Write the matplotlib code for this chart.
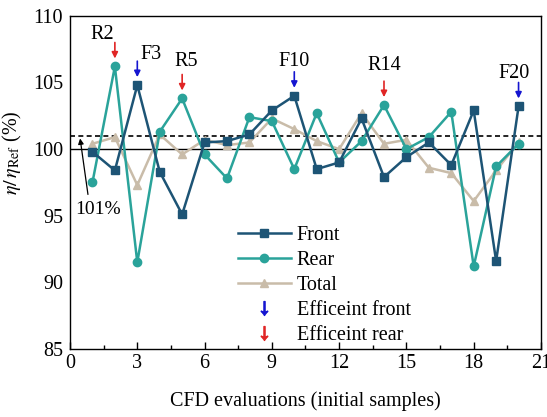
import numpy as np
import matplotlib
matplotlib.use('Agg')
import matplotlib.pyplot as plt
from matplotlib.lines import Line2D

plt.rcParams['font.family'] = ['Liberation Serif', 'DejaVu Serif']
plt.rcParams['mathtext.fontset'] = 'stix'
plt.rcParams['font.size'] = 14.5

# 数据：CFD 初始样本的效率比 (%)
samples = list(range(1, 21))
front = [99.8, 98.4, 104.8, 98.3, 95.1, 100.5, 100.6, 101.1, 102.9, 104.0,
         98.5, 99.0, 102.3, 97.9, 99.4, 100.5, 98.8, 102.9, 91.6, 103.2]
rear = [97.5, 106.2, 91.5, 101.3, 103.8, 99.6, 97.8, 102.4, 102.1, 98.5,
        102.7, 99.0, 100.6, 103.3, 100.0, 100.9, 102.8, 91.2, 98.7, 100.4]
total = [100.4, 100.9, 97.3, 101.1, 99.6, 100.7, 100.3, 100.5, 102.3, 101.5,
         100.6, 100.0, 102.7, 100.4, 100.7, 98.6, 98.2, 96.1, 98.4, 100.5]

# 标注的最优样本
best_labels = ['R2', 'F3', 'R5', 'F10', 'R14', 'F20']
best_idx = [2, 3, 5, 10, 14, 20]
best_side = ['rear', 'front', 'rear', 'front', 'rear', 'front']

ref_line = 100.0
target_line = 101.0

c_front = '#1d5475'
c_rear = '#2aa39a'
c_total = '#c9bca9'
c_arrow = {'front': '#1515d0', 'rear': '#e02525'}

fig = plt.figure(figsize=(5.47, 4.17), dpi=100)
ax = fig.add_axes([0.128, 0.163, 0.861, 0.799])

ax.axhline(ref_line, color='black', lw=1.0, zorder=1)
ax.axhline(target_line, color='black', lw=1.2, ls=(0, (3, 2)), zorder=1)

ax.plot(samples, front, color=c_front, lw=1.8, marker='s', ms=5.5, label='Front', zorder=4)
ax.plot(samples, rear, color=c_rear, lw=1.8, marker='o', ms=6, label='Rear', zorder=3)
ax.plot(samples, total, color=c_total, lw=1.8, marker='^', ms=6, label='Total', zorder=2)

text_off = {'R2': (-0.55, 2.4), 'F3': (0.6, 2.3), 'R5': (0.2, 2.8),
            'F10': (0.0, 2.6), 'R14': (0.0, 3.0), 'F20': (-0.2, 2.5)}
for lab, i, side in zip(best_labels, best_idx, best_side):
    v = front[i - 1] if side == 'front' else rear[i - 1]
    ax.annotate('', xy=(i, v + 0.6), xytext=(i, v + 1.8),
                arrowprops=dict(arrowstyle='-|>', color=c_arrow[side], lw=1.2,
                                mutation_scale=9, shrinkA=0, shrinkB=0))
    dx, dy = text_off[lab]
    ax.text(i + dx, v + dy, lab, ha='center', va='center', fontsize=14.5)

# 101% 标注
ax.annotate('', xy=(0.45, 100.8), xytext=(0.8, 96.6),
            arrowprops=dict(arrowstyle='-|>', color='black', lw=0.9,
                            mutation_scale=8, shrinkA=0, shrinkB=0))
ax.text(1.25, 95.5, '101%', ha='center', va='center', fontsize=14)

ax.set_xlim(0, 21)
ax.set_ylim(85, 110)
ax.set_xticks(np.arange(0, 22, 3))
ax.set_xticks(np.arange(1.5, 21, 3), minor=True)
ax.set_yticks(np.arange(85, 111, 5))
ax.tick_params(axis='x', which='major', direction='in', length=5, width=1)
ax.tick_params(axis='x', which='minor', direction='in', length=3, width=1)
ax.tick_params(axis='y', length=0, pad=5)
ax.tick_params(labelsize=14.5)
for s in ax.spines.values():
    s.set_linewidth(1.0)

ax.set_xlabel('CFD evaluations (initial samples)', fontsize=14.5, labelpad=13)
ax.set_ylabel(r'$\eta/\,\eta_{\rm Ref}$ (%)', fontsize=14.5)
ax.yaxis.set_label_coords(-0.098, 0.59)

handles, labels = ax.get_legend_handles_labels()
handles += [Line2D([], [], ls='none', marker=r'$\downarrow$', ms=10, color=c_arrow['front']),
            Line2D([], [], ls='none', marker=r'$\downarrow$', ms=10, color=c_arrow['rear'])]
labels += ['Efficeint front', 'Efficeint rear']
ax.legend(handles, labels, loc='upper left', bbox_to_anchor=(0.34, 0.395),
          frameon=False, handlelength=2.6, handletextpad=0.3,
          labelspacing=0.3, fontsize=14.5, borderaxespad=0)

fig.savefig('out.png', dpi=100)
